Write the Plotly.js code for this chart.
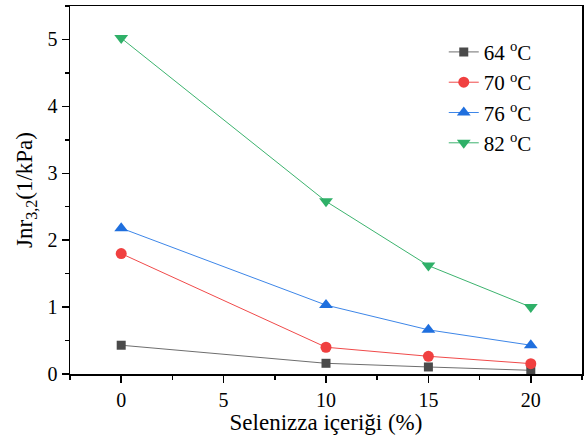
<!DOCTYPE html>
<html><head><meta charset="utf-8">
<script src="https://cdn.plot.ly/plotly-3.0.1.min.js"></script>
<style>body{margin:0;padding:0;background:#fff}#chart{width:587px;height:440px}</style>
</head><body><div id="chart"></div>
<script>
const content = [0, 10, 15, 20];
const seriesNames = ['64 <sup>o</sup>C', '70 <sup>o</sup>C', '76 <sup>o</sup>C', '82 <sup>o</sup>C'];
const jnr64 = [0.43, 0.16, 0.105, 0.055];
const jnr70 = [1.80, 0.40, 0.265, 0.155];
const jnr76 = [2.18, 1.03, 0.66, 0.43];
const jnr82 = [5.02, 2.58, 1.62, 1.00];
const xTicks = [0, 5, 10, 15, 20];
const yTicks = [0, 1, 2, 3, 4, 5];

const styles = [
  {line: '#6e6e6e', marker: '#4a4a4a', symbol: 'square', size: 9},
  {line: '#f04a4a', marker: '#f04040', symbol: 'circle', size: 11},
  {line: '#3d86e8', marker: '#1f6fde', symbol: 'triangle-up', size: 12},
  {line: '#3cb36e', marker: '#2fb068', symbol: 'triangle-down', size: 12}
];
const ys = [jnr64, jnr70, jnr76, jnr82];
const traces = ys.map((y, i) => ({
  x: content, y: y, name: seriesNames[i], type: 'scatter', mode: 'lines+markers',
  line: {color: styles[i].line, width: 1},
  marker: {color: styles[i].marker, symbol: styles[i].symbol, size: styles[i].size}
}));

const axisCommon = {
  showline: true, linecolor: '#000', linewidth: 1.5, mirror: true,
  ticks: 'outside', ticklen: 7, tickwidth: 1.5, tickcolor: '#000',
  showgrid: false, zeroline: false,
  tickfont: {family: 'Liberation Serif', size: 20, color: '#000'}
};

const layout = {
  width: 587, height: 440,
  margin: {l: 70, r: 5, t: 6, b: 66},
  paper_bgcolor: '#fff', plot_bgcolor: '#fff',
  font: {family: 'Liberation Serif', color: '#000'},
  showlegend: true,
  legend: {x: 0.73, y: 0.93, xanchor: 'left', yanchor: 'top', bgcolor: 'rgba(0,0,0,0)',
    font: {family: 'Liberation Serif', size: 21, color: '#000'}, tracegroupgap: 0},
  xaxis: Object.assign({}, axisCommon, {
    range: [-2.5, 22.5], tickvals: xTicks, ticktext: xTicks.map(String),
    minor: {dtick: 2.5, tick0: 0, ticks: 'outside', ticklen: 4, tickwidth: 1.5, tickcolor: '#000'},
    title: {text: 'Selenizza içeriği (%)', font: {family: 'Liberation Serif', size: 23}, standoff: 4}
  }),
  yaxis: Object.assign({}, axisCommon, {
    range: [0, 5.5], tickvals: yTicks, ticktext: yTicks.map(String),
    minor: {dtick: 0.5, tick0: 0, ticks: 'outside', ticklen: 4, tickwidth: 1.5, tickcolor: '#000'},
    title: {text: 'Jnr<sub>3,2</sub>(1/kPa)', font: {family: 'Liberation Serif', size: 23}, standoff: 8}
  })
};
Plotly.newPlot('chart', traces, layout, {displayModeBar: false, staticPlot: true});
</script></body></html>
